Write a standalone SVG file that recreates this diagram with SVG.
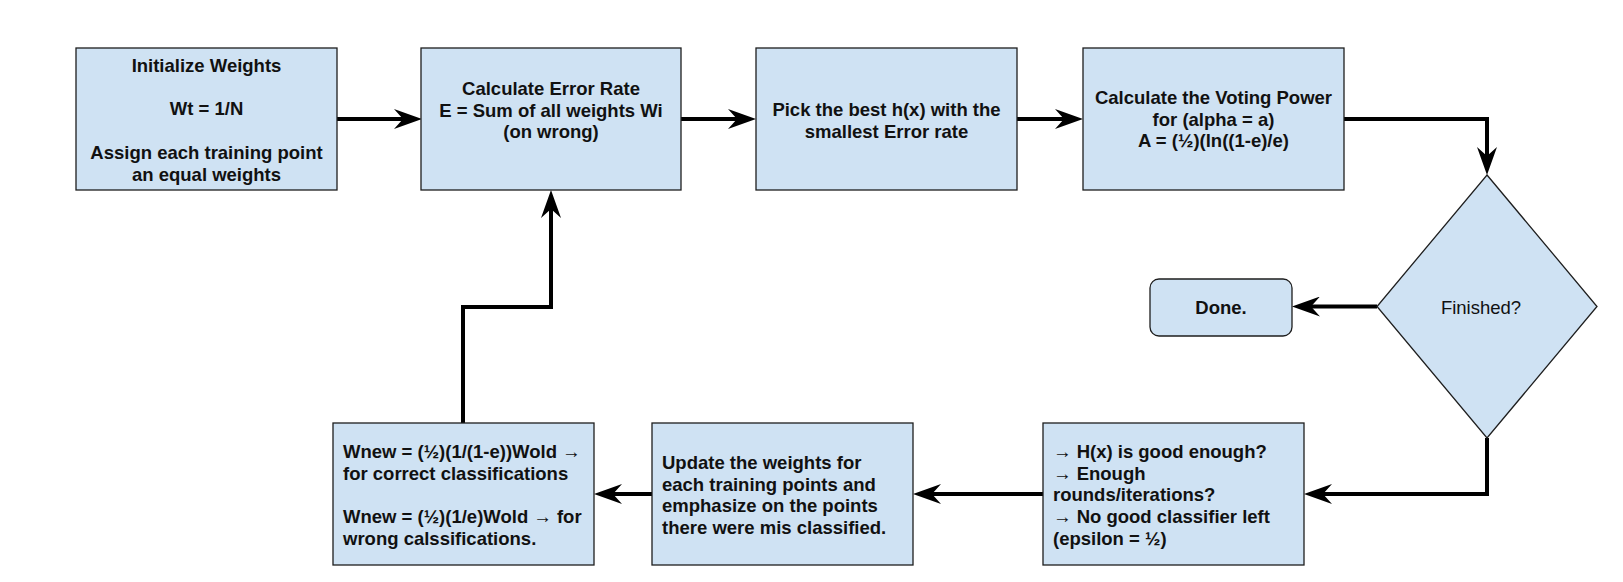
<svg xmlns="http://www.w3.org/2000/svg" width="1623" height="582" viewBox="0 0 1623 582">
<style>
.box{fill:#cfe2f3;stroke:#1e1e1e;stroke-width:1.3}
.t{font-family:"Liberation Sans",Arial,sans-serif;font-size:18.5px;font-weight:bold;fill:#111}
.c{text-anchor:middle}
.n{font-weight:normal}
.conn{fill:none;stroke:#000;stroke-width:4;stroke-linejoin:miter;marker-end:url(#arr)}
</style>
<defs>
<marker id="arr" markerUnits="userSpaceOnUse" markerWidth="28" markerHeight="20" viewBox="0 0 28 20" refX="10" refY="10" orient="auto">
<path d="M0,0 L28,10 L0,20 L9,10 Z" fill="#000"/>
</marker>
</defs>
<rect width="1623" height="582" fill="#fff"/>
<g id="connectors">
<path class="conn" d="M337,119 H404"/>
<path class="conn" d="M681,119 H738"/>
<path class="conn" d="M1017,119 H1065"/>
<path class="conn" d="M1344,119 H1487 V157"/>
<path class="conn" d="M1377,306.5 H1310"/>
<path class="conn" d="M1487,438 V494 H1322"/>
<path class="conn" d="M1043,494 H931"/>
<path class="conn" d="M652,494 H612"/>
<path class="conn" d="M463,423 V307 H551 V208"/>
</g>
<g id="init">
<rect class="box" x="76" y="48" width="261" height="142"/>
<text class="t c" x="206.5" y="72">Initialize Weights</text>
<text class="t c" x="206.5" y="115.4">Wt = 1/N</text>
<text class="t c" x="206.5" y="158.8">Assign each training point</text>
<text class="t c" x="206.5" y="180.5">an equal weights</text>
</g>
<g id="error">
<rect class="box" x="421" y="48" width="260" height="142"/>
<text class="t c" x="551" y="95">Calculate Error Rate</text>
<text class="t c" x="551" y="116.7">E = Sum of all weights Wi</text>
<text class="t c" x="551" y="138.4">(on wrong)</text>
</g>
<g id="pick">
<rect class="box" x="756" y="48" width="261" height="142"/>
<text class="t c" x="886.5" y="116">Pick the best h(x) with the</text>
<text class="t c" x="886.5" y="137.7">smallest Error rate</text>
</g>
<g id="voting">
<rect class="box" x="1083" y="48" width="261" height="142"/>
<text class="t c" x="1213.5" y="104">Calculate the Voting Power</text>
<text class="t c" x="1213.5" y="125.7">for (alpha = a)</text>
<text class="t c" x="1213.5" y="147.4">A = (½)(ln((1-e)/e)</text>
</g>
<g id="finished">
<polygon class="box" points="1487,175 1597,306.5 1487,438 1377,306.5"/>
<text class="t c n" x="1481" y="314">Finished?</text>
</g>
<g id="done">
<rect class="box" x="1150" y="279" width="142" height="57" rx="9" ry="9"/>
<text class="t c" x="1221" y="314">Done.</text>
</g>
<g id="check">
<rect class="box" x="1043" y="423" width="261" height="142"/>
<text class="t" x="1053" y="458">→ H(x) is good enough?</text>
<text class="t" x="1053" y="479.7">→ Enough</text>
<text class="t" x="1053" y="501.4">rounds/iterations?</text>
<text class="t" x="1053" y="523.1">→ No good classifier left</text>
<text class="t" x="1053" y="544.8">(epsilon = ½)</text>
</g>
<g id="update">
<rect class="box" x="652" y="423" width="261" height="142"/>
<text class="t" x="662" y="469">Update the weights for</text>
<text class="t" x="662" y="490.7">each training points and</text>
<text class="t" x="662" y="512.4">emphasize on the points</text>
<text class="t" x="662" y="534.1">there were mis classified.</text>
</g>
<g id="wnew">
<rect class="box" x="333" y="423" width="261" height="142"/>
<text class="t" x="343" y="458">Wnew = (½)(1/(1-e))Wold →</text>
<text class="t" x="343" y="479.7">for correct classifications</text>
<text class="t" x="343" y="523.1">Wnew = (½)(1/e)Wold → for</text>
<text class="t" x="343" y="544.8">wrong calssifications.</text>
</g>
</svg>
